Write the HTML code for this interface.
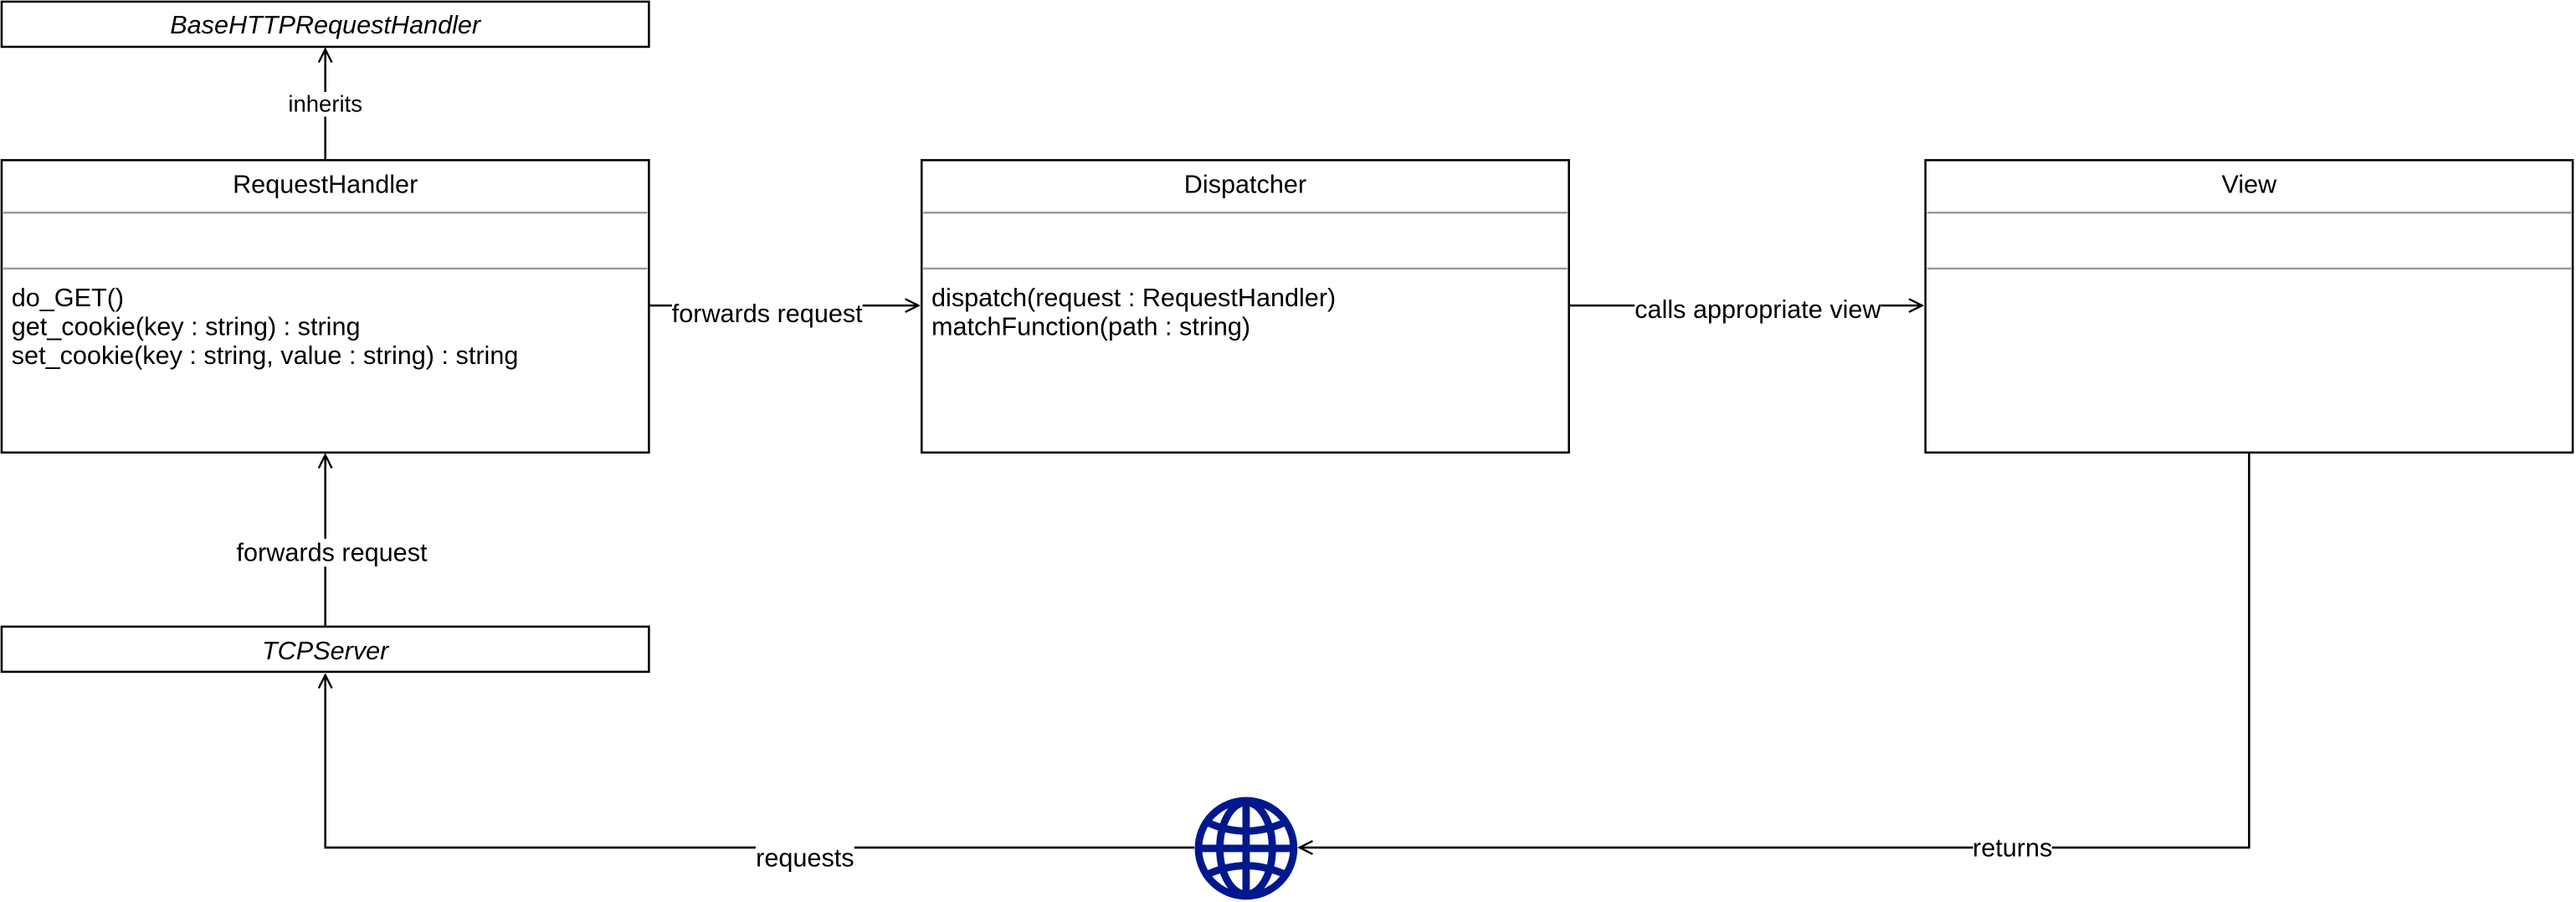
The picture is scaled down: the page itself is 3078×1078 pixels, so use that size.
<!DOCTYPE html>
<html><head><meta charset="utf-8"><style>html,body{margin:0;padding:0;background:#fff;}svg{display:block;}</style></head>
<body>
<svg width="3078" height="1078" viewBox="0 0 1568 549.15" xmlns="http://www.w3.org/2000/svg" font-family="Liberation Sans, sans-serif" font-size="15.6">
<defs>
<marker id="a" markerWidth="10" markerHeight="10" refX="9" refY="5" orient="auto" markerUnits="userSpaceOnUse">
<path d="M1,1 L9,5 L1,9" fill="none" stroke="#000" stroke-width="1.2"/>
</marker>
</defs>
<g fill="#fff" stroke="#000" stroke-width="1.3">
<rect x="1" y="1" width="394" height="27.5"/>
<rect x="1" y="97.5" width="394" height="178"/>
<rect x="561" y="97.5" width="394" height="178"/>
<rect x="1172" y="97.5" width="394" height="178"/>
<rect x="1" y="381.5" width="394" height="27.5"/>
</g>
<g stroke="#999" stroke-width="1.2">
<line x1="2" y1="129.5" x2="394" y2="129.5"/><line x1="2" y1="163.5" x2="394" y2="163.5"/>
<line x1="562" y1="129.5" x2="954" y2="129.5"/><line x1="562" y1="163.5" x2="954" y2="163.5"/>
<line x1="1173" y1="129.5" x2="1565" y2="129.5"/><line x1="1173" y1="163.5" x2="1565" y2="163.5"/>
</g>
<g text-anchor="middle" fill="#000">
<text x="198" y="20.5" font-style="italic">BaseHTTPRequestHandler</text>
<text x="198" y="117.5">RequestHandler</text>
<text x="758" y="117.5">Dispatcher</text>
<text x="1369" y="117.5">View</text>
<text x="198" y="401.5" font-style="italic">TCPServer</text>
</g>
<g fill="#000">
<text x="7" y="186.5">do_GET()</text>
<text x="7" y="204">get_cookie(key : string) : string</text>
<text x="7" y="221.5">set_cookie(key : string, value : string) : string</text>
<text x="567" y="186.5">dispatch(request : RequestHandler)</text>
<text x="567" y="204">matchFunction(path : string)</text>
</g>
<g stroke="#000" stroke-width="1.3" fill="none">
<line x1="198" y1="97" x2="198" y2="30" marker-end="url(#a)"/>
<line x1="198" y1="381" x2="198" y2="277" marker-end="url(#a)"/>
<line x1="395" y1="186" x2="559" y2="186" marker-end="url(#a)"/>
<line x1="955" y1="186" x2="1170" y2="186" marker-end="url(#a)"/>
<polyline points="1369,275 1369,516 791,516" marker-end="url(#a)"/>
<polyline points="727,516 198,516 198,411" marker-end="url(#a)"/>
</g>
<g text-anchor="middle" fill="#000">
<rect x="176" y="56" width="44" height="15" fill="#fff"/>
<text x="198" y="68" font-size="14">inherits</text>
<rect x="145" y="328" width="116" height="17" fill="#fff"/>
<text x="202" y="341.5">forwards request</text>
<rect x="409" y="181" width="116" height="17" fill="#fff"/>
<text x="467" y="196">forwards request</text>
<rect x="995" y="179" width="150" height="17" fill="#fff"/>
<text x="1070" y="193.5">calls appropriate view</text>
<rect x="1201" y="509" width="48" height="15" fill="#fff"/>
<text x="1225" y="521.5">returns</text>
<rect x="460" y="514" width="60" height="17" fill="#fff"/>
<text x="490" y="527.5">requests</text>
</g>
<g transform="translate(758.5,516.5)" fill="none" stroke="#00188D" stroke-width="4.5">
<circle r="29"/>
<line x1="0" y1="-29" x2="0" y2="29"/>
<line x1="-29" y1="0" x2="29" y2="0"/>
<ellipse rx="16" ry="28"/>
<path d="M-24,-16 Q0,-5 24,-16"/>
<path d="M-24,16 Q0,5 24,16"/>
</g>
</svg>
</body></html>
